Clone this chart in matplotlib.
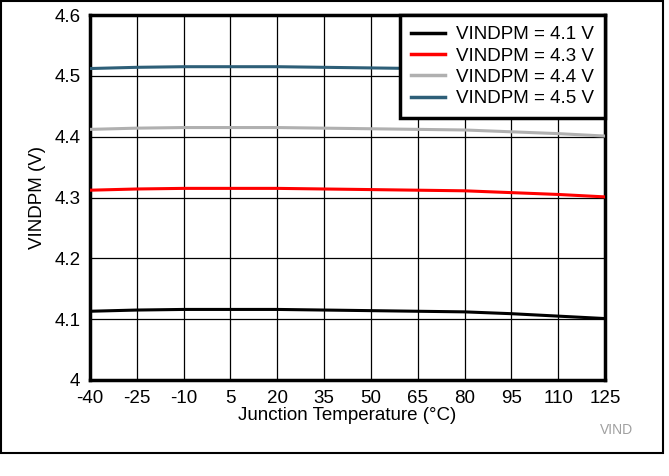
import matplotlib
matplotlib.use("Agg")
import matplotlib.pyplot as plt
from matplotlib.patches import Rectangle

plt.rcParams['font.family'] = ['Liberation Sans', 'DejaVu Sans']
plt.rcParams['axes.unicode_minus'] = False

temps = [-40, -25, -10, 5, 20, 35, 50, 65, 80, 95, 110, 125]
v41 = [4.113, 4.115, 4.116, 4.116, 4.116, 4.115, 4.114, 4.113, 4.112, 4.109, 4.105, 4.101]
v43 = [4.312, 4.314, 4.315, 4.315, 4.315, 4.314, 4.313, 4.312, 4.311, 4.308, 4.305, 4.301]
v44 = [4.412, 4.414, 4.415, 4.415, 4.415, 4.414, 4.413, 4.412, 4.411, 4.408, 4.405, 4.401]
v45 = [4.512, 4.514, 4.515, 4.515, 4.515, 4.514, 4.513, 4.512, 4.511, 4.508, 4.505, 4.501]
series = [v41, v43, v44, v45]
labels = ["VINDPM = 4.1 V", "VINDPM = 4.3 V", "VINDPM = 4.4 V", "VINDPM = 4.5 V"]
colors = ["#000000", "#ff0000", "#b0b0b0", "#2e5f78"]
xticks = [-40, -25, -10, 5, 20, 35, 50, 65, 80, 95, 110, 125]
yticks = [4.0, 4.1, 4.2, 4.3, 4.4, 4.5, 4.6]
yticklabels = ["4", "4.1", "4.2", "4.3", "4.4", "4.5", "4.6"]

FS = 13.5

fig = plt.figure(figsize=(6.69, 4.76), dpi=100)
ax = fig.add_axes([90/669, 1-380/476, (605-90)/669, (380-15)/476])

for s, lab, c in zip(series, labels, colors):
    ax.plot(temps, s, color=c, lw=2.2, label=lab, zorder=3)

ax.set_xlim(-40, 125)
ax.set_ylim(4.0, 4.6)
ax.set_xticks(xticks)
ax.set_xticklabels([str(t) for t in xticks])
ax.set_yticks(yticks)
ax.set_yticklabels(yticklabels)
ax.tick_params(axis='both', labelsize=FS, length=0, pad=7)
ax.grid(True, color='#000000', lw=0.9, zorder=1)
for sp in ax.spines.values():
    sp.set_linewidth(2.5)
ax.set_xlabel("Junction Temperature (°C)", fontsize=FS, labelpad=0)
ax.set_ylabel("VINDPM (V)", fontsize=FS, labelpad=6)

leg = ax.legend(loc='upper right', fontsize=FS, frameon=True, fancybox=False,
                edgecolor='black', borderaxespad=0, handlelength=1.8,
                labelspacing=0.22, borderpad=0.6, handletextpad=0.6)
leg.get_frame().set_linewidth(2.5)
leg.get_frame().set_alpha(1)
for line in leg.get_lines():
    line.set_linewidth(2.5)

fig.text(617/669, 1-430/476, "VIND", color='#a0a0a0', fontsize=10, ha='center', va='center')

fig.patches.append(Rectangle((1/669, 1-453/476), 662/669, 452/476, transform=fig.transFigure,
                             fill=False, edgecolor='black', lw=1.5))

fig.savefig("out.png", dpi=100)
